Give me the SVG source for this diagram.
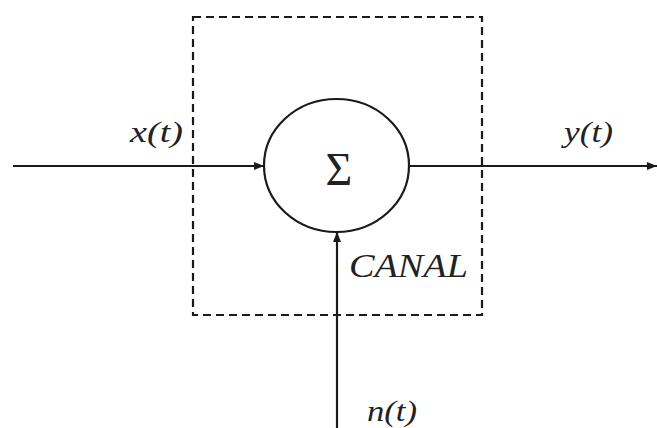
<svg xmlns="http://www.w3.org/2000/svg" width="657" height="428" viewBox="0 0 657 428">
<style>
.ln{stroke:#1a1a1a;stroke-width:2.2;fill:none}
.m{font-family:'Liberation Serif','Times New Roman',serif;font-style:italic;fill:#222}
.s{font-family:'Liberation Serif','Times New Roman',serif;fill:#222}
</style>
<defs>
<marker id="ah" viewBox="0 0 10 8" refX="10" refY="4" markerWidth="10" markerHeight="8" markerUnits="userSpaceOnUse" orient="auto">
<path d="M0,0 L10,4 L0,8 Z" fill="#1a1a1a"/>
</marker>
</defs>
<rect width="657" height="428" fill="#fff"/>
<g id="canal">
<rect x="193" y="17" width="289" height="298" class="ln" stroke-width="2.4" stroke-dasharray="8,5"/>
<text class="m" x="349" y="277" font-size="34" textLength="119" lengthAdjust="spacingAndGlyphs">CANAL</text>
</g>
<g id="sum">
<ellipse cx="336.5" cy="165.5" rx="72.5" ry="66.5" class="ln"/>
<text class="s" x="339" y="185" font-size="46" text-anchor="middle">Σ</text>
</g>
<g id="connectors">
<line x1="13" y1="166" x2="264" y2="166" class="ln" marker-end="url(#ah)"/>
<line x1="409" y1="166" x2="657" y2="166" class="ln" marker-end="url(#ah)"/>
<line x1="337" y1="428" x2="337" y2="232" class="ln" marker-end="url(#ah)"/>
</g>
<g id="labels">
<text class="m" x="130" y="142" font-size="29" textLength="53" lengthAdjust="spacingAndGlyphs">x(t)</text>
<text class="m" x="564" y="142" font-size="29" textLength="49" lengthAdjust="spacingAndGlyphs">y(t)</text>
<text class="m" x="367" y="421" font-size="29" textLength="50" lengthAdjust="spacingAndGlyphs">n(t)</text>
</g>
</svg>
